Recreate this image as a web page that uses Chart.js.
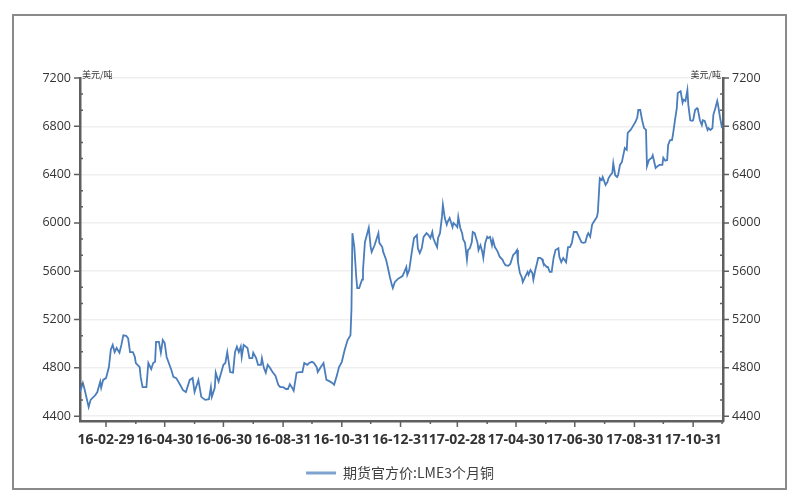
<!DOCTYPE html>
<html>
<head>
<meta charset="utf-8">
<script src="https://cdn.jsdelivr.net/npm/chart.js@4.4.0/dist/chart.umd.min.js"></script>
<style>
  html, body { margin: 0; padding: 0; background: #fff; }
  #wrap { position: relative; width: 800px; height: 500px; }
  #frame { position: absolute; left: 12px; top: 14px; width: 771px; height: 472px; border: 2px solid #8a8a8a; pointer-events: none; }
</style>
</head>
<body>
<div id="wrap">
  <canvas id="myChart" width="800" height="500"></canvas>
  <div id="frame"></div>
</div>
<script>
const seriesName = "期货官方价:LME3个月铜";
const unitLabel = "美元/吨";

// days counted from 2016-01-01
const dayOfSeries = [
  32,35,37,41,43,48,50,53,54,56,
  59,62,64,66,68,70,73,75,77,80,
  82,84,87,89,90,94,95,97,101,103,
  106,108,110,111,114,116,118,120,122,127,
  129,132,136,139,142,146,149,151,155,158,
  162,166,168,169,172,173,176,181,183,185,
  188,191,193,195,197,199,200,202,206,208,
  211,212,215,217,220,221,223,225,227,229,
  232,235,238,240,243,246,248,250,252,254,
  257,260,263,265,268,270,273,275,278,279,
  282,285,288,291,294,296,299,301,304,307,
  310,313,314,315,317,319,320,322,325,326,
  328,330,332,334,335,338,342,343,346,347,
  350,352,354,356,357,359,362,367,369,371,
  372,374,377,379,382,383,385,387,389,392,
  394,396,398,399,401,403,404,406,408,409,
  411,413,414,416,419,420,422,424,425,427,
  429,430,432,434,435,437,439,440,442,445,
  446,448,450,451,453,455,456,458,460,461,
  463,465,466,468,471,472,474,477,479,481,
  482,484,486,487,489,491,492,494,497,498,
  500,502,503,505,507,508,510,512,513,515,
  517,518,520,522,524,526,529,530,532,534,
  537,539,541,543,545,548,551,553,555,557,
  559,560,562,564,565,567,569,570,572,574,
  575,578,580,581,583,585,586,588,590,591,
  593,595,596,598,600,601,604,606,607,609,
  611,612,614,616,618,620,621,623,626,627,
  630,632,634,637,638,640,642,643,645,647,
  648,650,652,653,656,658,659,661,663,664,
  666,668,669,671,673,674,676,678,679,681,
  684,685,687,689,690,692,694,695,697,699
];

const copperPrice = [
  4600,4675,4615,4475,4535,4575,4600,4685,4635,4700,
  4715,4805,4950,4990,4930,4965,4925,4990,5070,5065,
  5045,4930,4930,4890,4840,4805,4725,4640,4640,4840,
  4790,4840,4850,5015,5015,4925,5030,5005,4890,4780,
  4725,4715,4660,4615,4600,4700,4715,4600,4700,4560,
  4535,4540,4640,4560,4635,4760,4685,4825,4840,4930,
  4765,4760,4930,4975,4930,4975,4890,4990,4965,4880,
  4880,4925,4880,4825,4825,4880,4800,4760,4825,4805,
  4765,4735,4660,4640,4640,4625,4625,4665,4640,4610,
  4760,4765,4765,4840,4825,4840,4850,4840,4805,4765,
  4805,4840,4700,4690,4675,4660,4740,4805,4850,4950,
  5030,5070,5280,5915,5800,5550,5460,5460,5530,5610,
  5840,5900,5960,5800,5760,5815,5915,5835,5800,5760,
  5695,5625,5550,5485,5460,5510,5535,5560,5595,5635,
  5570,5610,5775,5875,5900,5790,5750,5790,5885,5915,
  5900,5875,5925,5875,5835,5800,5875,5915,6050,6150,
  6040,5985,6010,6040,5965,6000,5985,5965,6050,5960,
  5915,5865,5835,5695,5775,5790,5840,5925,5915,5835,
  5775,5815,5760,5710,5835,5885,5875,5885,5815,5860,
  5800,5775,5760,5720,5695,5675,5650,5645,5660,5710,
  5735,5750,5775,5675,5585,5550,5510,5545,5595,5570,
  5610,5585,5530,5610,5675,5710,5710,5700,5675,5650,
  5635,5635,5595,5595,5710,5775,5790,5720,5675,5710,
  5675,5800,5800,5835,5925,5925,5875,5840,5835,5840,
  5900,5915,5885,5985,6000,6025,6050,6090,6370,6355,
  6380,6315,6340,6370,6395,6415,6495,6395,6380,6395,
  6480,6505,6545,6620,6605,6745,6770,6795,6810,6835,
  6875,6935,6935,6850,6785,6770,6470,6520,6540,6560,
  6455,6470,6480,6480,6540,6515,6520,6645,6685,6685,
  6730,6845,6950,7075,7090,6995,7020,7010,7100,6975,
  6850,6845,6850,6935,6950,6935,6850,6810,6850,6845,
  6770,6785,6770,6785,6895,6950,7010,6970,6870,6785
];

const majorTickDates = ["2016-02-29","2016-04-30","2016-06-30","2016-08-31","2016-10-31","2016-12-31",
                        "2017-02-28","2017-04-30","2017-06-30","2017-08-31","2017-10-31"];
const majorTickLabels = ["16-02-29","16-04-30","16-06-30","16-08-31","16-10-31","16-12-31",
                         "17-02-28","17-04-30","17-06-30","17-08-31","17-10-31"];
const minorTickDates = ["2016-03-31","2016-05-31","2016-07-31","2016-09-30","2016-11-30","2017-01-31",
                        "2017-03-31","2017-05-31","2017-07-31","2017-09-30","2017-11-30"];
const yTickValues = [4400, 4800, 5200, 5600, 6000, 6400, 6800, 7200];

const startDay = Date.parse("2016-01-01");
function dayNumber(s) {
  return Math.round((Date.parse(s) - startDay) / 86400000);
}
const majorTickDays = majorTickDates.map(dayNumber);
const minorTickDays = minorTickDates.map(dayNumber);

// two small ticks between each pair of labelled ticks
const yMinorValues = [];
for (let i = 0; i < yTickValues.length - 1; i++) {
  const step = (yTickValues[i + 1] - yTickValues[i]) / 3;
  yMinorValues.push(yTickValues[i] + step, yTickValues[i] + 2 * step);
}

const points = dayOfSeries.map((d, i) => ({ x: d, y: copperPrice[i] }));

const axisColor = "#5f5f5f";
const lineColor = "#4a7dbb";

const axisMarks = {
  id: "axisMarks",
  afterDraw(chart) {
    const ctx = chart.ctx;
    const xs = chart.scales.x, yl = chart.scales.y, yr = chart.scales.y2;
    ctx.save();
    ctx.strokeStyle = axisColor;
    ctx.lineWidth = 1.5;
    ctx.beginPath();
    majorTickDays.forEach(d => {
      const px = xs.getPixelForValue(d);
      ctx.moveTo(px, xs.top); ctx.lineTo(px, xs.top + 6);
    });
    minorTickDays.forEach(d => {
      const px = xs.getPixelForValue(d);
      if (px > xs.left && px < xs.right) { ctx.moveTo(px, xs.top); ctx.lineTo(px, xs.top + 3); }
    });
    yTickValues.forEach(v => {
      const py = yl.getPixelForValue(v);
      ctx.moveTo(yl.right, py); ctx.lineTo(yl.right - 6, py);
      ctx.moveTo(yr.left, py); ctx.lineTo(yr.left + 6, py);
    });
    yMinorValues.forEach(v => {
      const py = yl.getPixelForValue(v);
      ctx.moveTo(yl.right, py); ctx.lineTo(yl.right + 3, py);
      ctx.moveTo(yr.left, py); ctx.lineTo(yr.left - 3, py);
    });
    ctx.stroke();

    ctx.fillStyle = "#333";
    ctx.font = '9px "Noto Sans CJK SC"';
    ctx.textBaseline = "middle";
    ctx.textAlign = "left";
    ctx.fillText(unitLabel, yl.right + 2, yl.top - 3);
    ctx.textAlign = "right";
    ctx.fillText(unitLabel, yr.left - 2, yr.top - 3);
    ctx.restore();
  }
};

const yTickStyle = {
  padding: 9,
  color: "#333",
  font: { family: "Open Sans", size: 12.5 },
  callback: v => String(v)
};

const ctx = document.getElementById("myChart").getContext("2d");
const myChart = new Chart(ctx, {
  type: "line",
  data: {
    datasets: [{
      label: seriesName,
      data: points,
      borderColor: lineColor,
      backgroundColor: "#7fa3d0",
      borderWidth: 1.8,
      pointRadius: 0,
      tension: 0
    }]
  },
  options: {
    responsive: false,
    animation: false,
    layout: { padding: { top: 78, bottom: 10, left: 0, right: 0 } },
    plugins: {
      tooltip: { enabled: false },
      legend: {
        position: "bottom",
        labels: {
          boxWidth: 30,
          boxHeight: 3,
          color: "#404040",
          font: { family: "Noto Sans CJK SC", size: 14 },
          generateLabels: chart => chart.data.datasets.map((ds, i) => ({
            text: ds.label,
            fillStyle: "#7fa3d0",
            strokeStyle: "rgba(0,0,0,0)",
            lineWidth: 0,
            fontColor: "#404040",
            datasetIndex: i
          }))
        }
      }
    },
    scales: {
      x: {
        type: "linear",
        min: 32,
        max: 700,
        afterBuildTicks: s => { s.ticks = majorTickDays.map(v => ({ value: v })); },
        afterFit: s => { s.height = 35; },
        grid: { drawOnChartArea: false, drawTicks: false },
        border: { color: axisColor, width: 2.5 },
        ticks: {
          autoSkip: false,
          maxRotation: 0,
          padding: 11,
          color: "#333",
          font: { family: "Open Sans", size: 14, weight: "bold" },
          callback: (v, i) => majorTickLabels[i]
        }
      },
      y: {
        position: "left",
        min: 4360,
        max: 7200,
        afterBuildTicks: s => { s.ticks = yTickValues.map(v => ({ value: v })); },
        afterFit: s => { s.width = 80; },
        grid: { color: "#efefef", lineWidth: 1.5, drawTicks: false },
        border: { color: axisColor, width: 2.5 },
        ticks: yTickStyle
      },
      y2: {
        position: "right",
        min: 4360,
        max: 7200,
        afterBuildTicks: s => { s.ticks = yTickValues.map(v => ({ value: v })); },
        afterFit: s => { s.width = 77; },
        grid: { drawOnChartArea: false, drawTicks: false },
        border: { color: axisColor, width: 2.5 },
        ticks: yTickStyle
      }
    }
  },
  plugins: [axisMarks]
});
</script>
</body>
</html>
